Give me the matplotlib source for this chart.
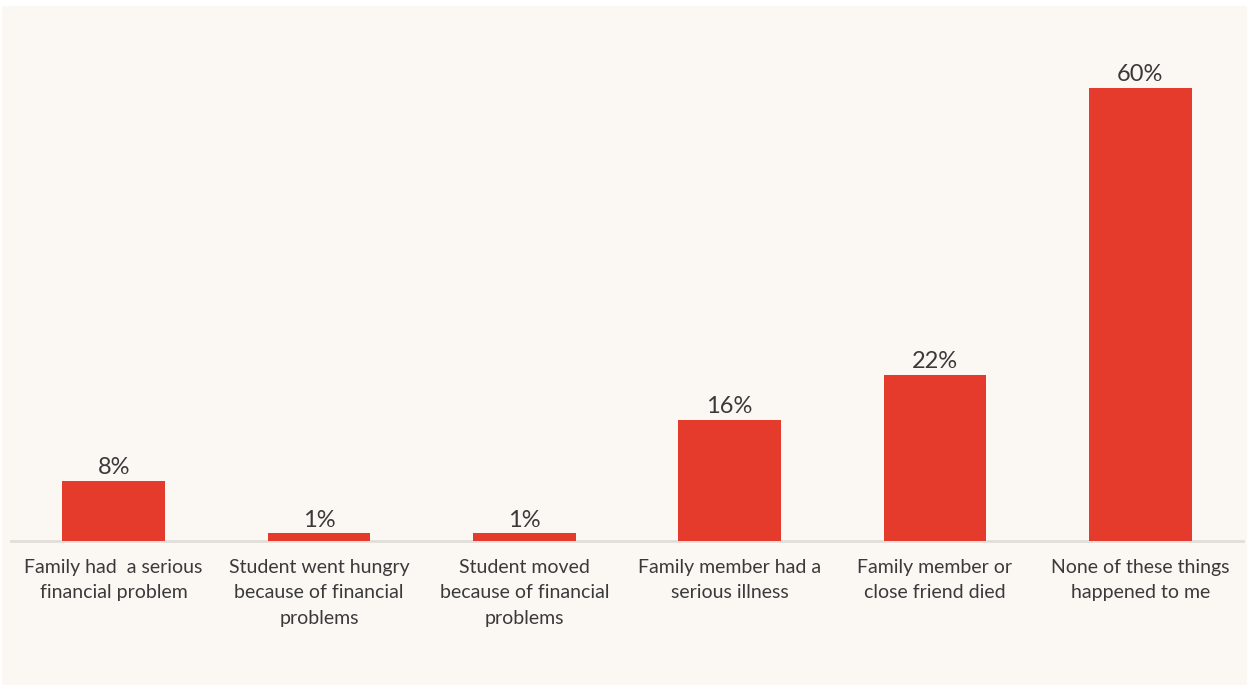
import matplotlib.pyplot as plt
from matplotlib.patches import Rectangle

categories = [
    "Family had  a serious\nfinancial problem",
    "Student went hungry\nbecause of financial\nproblems",
    "Student moved\nbecause of financial\nproblems",
    "Family member had a\nserious illness",
    "Family member or\nclose friend died",
    "None of these things\nhappened to me",
]
values = [8, 1, 1, 16, 22, 60]
value_labels = ["8%", "1%", "1%", "16%", "22%", "60%"]

bg = "#FBF7F3"
red = "#E43B2C"
txt = "#3A3A3A"

plt.rcParams['font.family'] = ['Lato', 'DejaVu Sans']

fig = plt.figure(figsize=(12.47, 6.85), dpi=100, facecolor="white")
fig.patches.append(Rectangle((2 / 1247, 0), 1 - 2 / 1247, 679 / 685,
                             transform=fig.transFigure, facecolor=bg,
                             edgecolor="none", zorder=-10))

ax = fig.add_axes([11 / 1247, 144 / 685, 1232 / 1247, 495 / 685])
ax.set_facecolor("none")

x = range(len(values))
bars = ax.bar(x, values, width=0.5, color=red, zorder=3)
for b, lab in zip(bars, value_labels):
    ax.annotate(lab, (b.get_x() + b.get_width() / 2, b.get_height()),
                xytext=(0, 2), textcoords="offset points",
                ha="center", va="bottom", fontsize=17, color=txt)

ax.set_xlim(-0.5, len(values) - 0.5)
ax.set_ylim(0, 65.5)
ax.set_xticks(list(x))
ax.set_xticklabels(categories, fontsize=14, color=txt, linespacing=1.6)
ax.tick_params(axis="x", length=0, pad=13)
ax.set_yticks([])
for s in ["top", "right", "left"]:
    ax.spines[s].set_visible(False)
ax.spines["bottom"].set_color("#E2DEDA")
ax.spines["bottom"].set_linewidth(2)

fig.savefig("out.png", dpi=100, facecolor=fig.get_facecolor())
